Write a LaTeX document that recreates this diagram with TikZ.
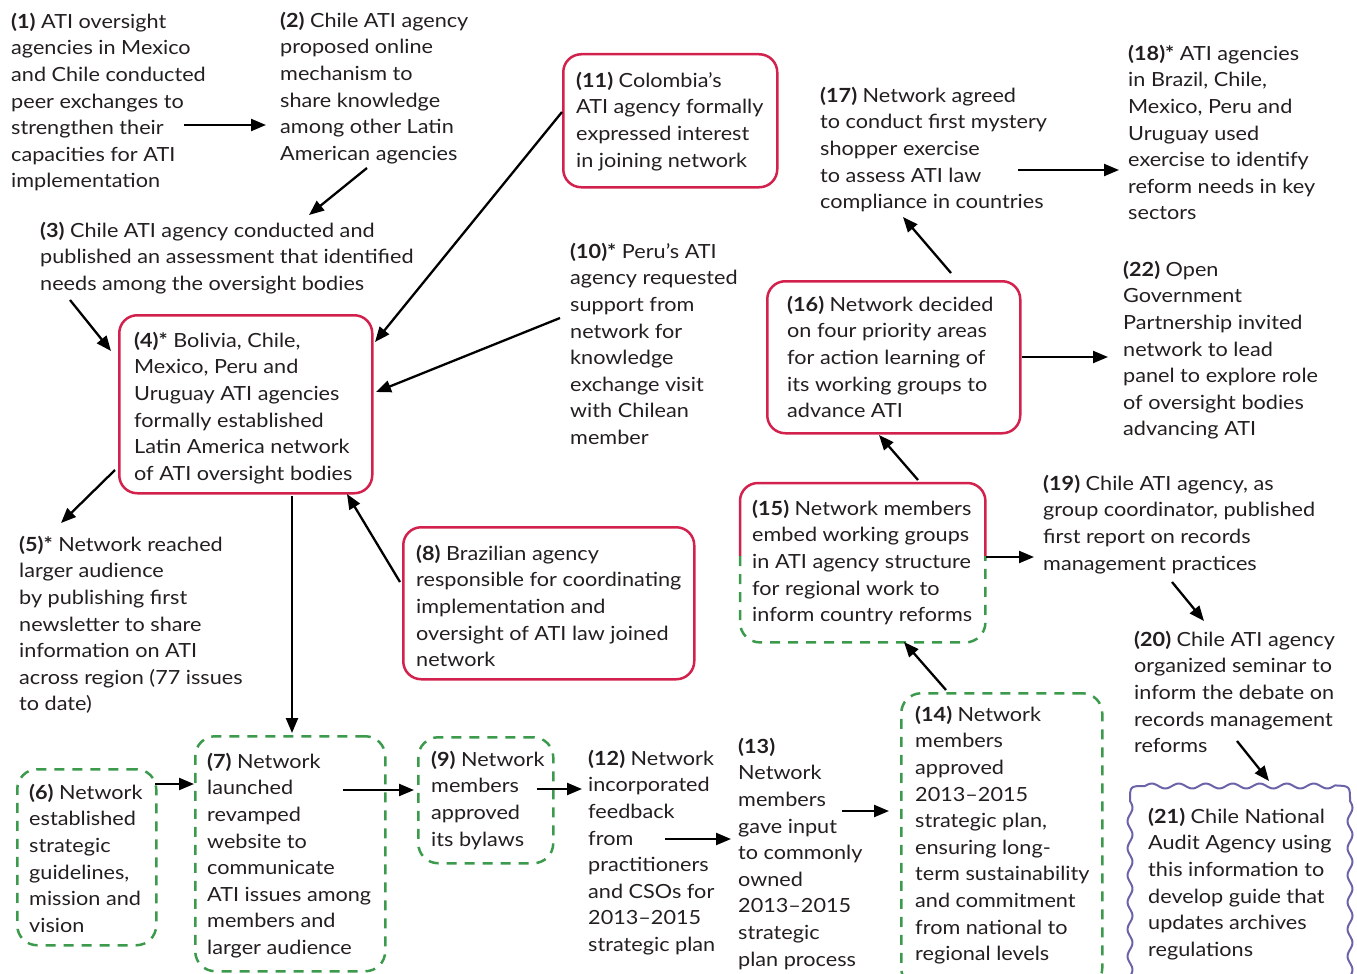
\documentclass[tikz,border=0pt]{standalone}
\usepackage{fontspec}
\setmainfont[FakeStretch=1.11]{Lato}
\usetikzlibrary{arrows.meta}
\definecolor{cred}{HTML}{D2214C}
\definecolor{cgreen}{HTML}{3C9A4C}
\definecolor{cpurple}{HTML}{6A63A8}
\definecolor{ctext}{HTML}{231F20}
\newcommand{\fs}{\rule{0pt}{16pt}}
\begin{document}
\begin{tikzpicture}[x=1pt,y=-1pt,
 txt/.style={anchor=north west,inner sep=0pt,align=left,font=\fontsize{19.5}{26.6}\selectfont,text=ctext},
 arr/.style={-{Triangle[length=15pt,width=12pt]},line width=2.3pt},
 redbox/.style={draw=cred,line width=2.5pt,rounded corners=18pt},
 greenbox/.style={draw=cgreen,line width=2.5pt,rounded corners=20pt,dash pattern=on 10pt off 8pt},
 wavybox/.style={draw=cpurple,line width=2pt,line join=round},
]
\useasboundingbox (0,0) rectangle (1357,974);

% ---------- frames ----------
\node[redbox,anchor=north west,inner sep=0pt,minimum width=253pt,minimum height=178pt] (b4) at (118,314) {};
\node[redbox,anchor=north west,inner sep=0pt,minimum width=291pt,minimum height=152pt] (b8) at (402,526) {};
\node[redbox,anchor=north west,inner sep=0pt,minimum width=214pt,minimum height=133pt] (b11) at (562,53) {};
\node[redbox,anchor=north west,inner sep=0pt,minimum width=253pt,minimum height=152pt] (b16) at (766,280) {};
\node[greenbox,anchor=north west,inner sep=0pt,minimum width=139pt,minimum height=176pt] (b6) at (16,768) {};
\node[greenbox,anchor=north west,inner sep=0pt,minimum width=190pt,minimum height=235pt] (b7) at (194,735) {};
\node[greenbox,anchor=north west,inner sep=0pt,minimum width=135pt,minimum height=126pt] (b9) at (417,736) {};
\node[greenbox,anchor=north west,inner sep=0pt,minimum width=201pt,minimum height=295pt] (b14) at (900,692) {};
\node[anchor=north west,inner sep=0pt,minimum width=245pt,minimum height=159pt] (b15) at (740,483) {};
\draw[cred,line width=2.5pt,rounded corners=18pt] (b15.west|-0,556) -- (b15.north west) -- (b15.north east) -- (b15.east|-0,556);
\draw[cgreen,line width=2.5pt,rounded corners=20pt,dash pattern=on 10pt off 8pt] (b15.west|-0,556) -- (b15.south west) -- (b15.south east) -- (b15.east|-0,556);
\node[anchor=north west,inner sep=0pt,minimum width=220pt,minimum height=210pt] (b21) at (1130,786) {};
% wavy outline of (21)
\draw[wavybox]
  plot[domain=990:801,samples=90,smooth] ({1130+2.5*sin((\x-801)*13.3333)},\x)
  .. controls (1130,786) .. (1145,786)
  -- plot[domain=1145:1335,samples=90,smooth] (\x,{786-2.5*sin((\x-1145)*13.3333)})
  .. controls (1350,786) .. (1350,801)
  -- plot[domain=801:990,samples=90,smooth] ({1350+2.5*sin((\x-801)*13.3333)},\x);

% ---------- texts ----------
\node[txt] (t1) at (11,12) {\fs\textbf{(1)} ATI oversight\\agencies in Mexico\\and Chile conducted\\peer exchanges to\\strengthen their\\capacities for ATI\\implementation};
\node[txt] (t2) at (280,11) {\fs\textbf{(2)} Chile ATI agency\\proposed online\\mechanism to\\share knowledge\\among other Latin\\American agencies};
\node[txt] (t3) at (40,221) {\fs\textbf{(3)} Chile ATI agency conducted and\\published an assessment that identified\\needs among the oversight bodies};
\node[txt] (t4) at (134,331) {\fs\textbf{(4)*} Bolivia, Chile,\\Mexico, Peru and\\Uruguay ATI agencies\\formally established\\Latin America network\\of ATI oversight bodies};
\node[txt] (t5) at (19,535) {\fs\textbf{(5)*} Network reached\\larger audience\\by publishing first\\newsletter to share\\information on ATI\\across region (77 issues\\to date)};
\node[txt] (t6) at (29,783) {\fs\textbf{(6)} Network\\established\\strategic\\guidelines,\\mission and\\vision};
\node[txt] (t7) at (207,752) {\fs\textbf{(7)} Network\\launched\\revamped\\website to\\communicate\\ATI issues among\\members and\\larger audience};
\node[txt] (t8) at (416,544) {\fs\textbf{(8)} Brazilian agency\\responsible for coordinating\\implementation and\\oversight of ATI law joined\\network};
\node[txt] (t9) at (431,750) {\fs\textbf{(9)} Network\\members\\approved\\its bylaws};
\node[txt] (t10) at (570,242) {\fs\textbf{(10)*} Peru’s ATI\\agency requested\\support from\\network for\\knowledge\\exchange visit\\with Chilean\\member};
\node[txt] (t11) at (576,71) {\fs\textbf{(11)} Colombia’s\\ATI agency formally\\expressed interest\\in joining network};
\node[txt] (t12) at (588,749) {\fs\textbf{(12)} Network\\incorporated\\feedback\\from\\practitioners\\and CSOs for\\2013–2015\\strategic plan};
\node[txt] (t13) at (738,737) {\fs\textbf{(13)}\\Network\\members\\gave input\\to commonly\\owned\\2013–2015\\strategic\\plan process};
\node[txt] (t14) at (915,705) {\fs\textbf{(14)} Network\\members\\approved\\2013–2015\\strategic plan,\\ensuring long-\\term sustainability\\and commitment\\from national to\\regional levels};
\node[txt] (t15) at (752,499) {\fs\textbf{(15)} Network members\\embed working groups\\in ATI agency structure\\for regional work to\\inform country reforms};
\node[txt] (t16) at (787,295) {\fs\textbf{(16)} Network decided\\on four priority areas\\for action learning of\\its working groups to\\advance ATI};
\node[txt] (t17) at (820,86) {\fs\textbf{(17)} Network agreed\\to conduct first mystery\\shopper exercise\\to assess ATI law\\compliance in countries};
\node[txt] (t18) at (1128,44) {\fs\textbf{(18)*} ATI agencies\\in Brazil, Chile,\\Mexico, Peru and\\Uruguay used\\exercise to identify\\reform needs in key\\sectors};
\node[txt] (t19) at (1043,474) {\fs\textbf{(19)} Chile ATI agency, as\\group coordinator, published\\first report on records\\management practices};
\node[txt] (t20) at (1134,630) {\fs\textbf{(20)} Chile ATI agency\\organized seminar to\\inform the debate on\\records management\\reforms};
\node[txt] (t21) at (1148,807) {\fs\textbf{(21)} Chile National\\Audit Agency using\\this information to\\develop guide that\\updates archives\\regulations};
\node[txt] (t22) at (1123,260) {\fs\textbf{(22)} Open\\Government\\Partnership invited\\network to lead\\panel to explore role\\of oversight bodies\\advancing ATI};

% ---------- arrow end points ----------
\coordinate (a1s) at (184,125);  \coordinate (a1e) at (266,125);
\coordinate (a2s) at (367,168);  \coordinate (a2e) at (309,215);
\coordinate (a3s) at (70,300);   \coordinate (a3e) at (111,351);
\coordinate (a11s) at (562,112); \coordinate (a11e) at (375,342);
\coordinate (a10s) at (560,318); \coordinate (a10e) at (376,392);
\coordinate (a4s) at (115,470);  \coordinate (a4e) at (61,523);
\coordinate (a47s) at (292,496); \coordinate (a47e) at (292,733);
\coordinate (a8s) at (400,582);  \coordinate (a8e) at (347,494);
\coordinate (a6s) at (155,784);  \coordinate (a6e) at (194,784);
\coordinate (a7s) at (343,790);  \coordinate (a7e) at (414,790);
\coordinate (a9s) at (537,789);  \coordinate (a9e) at (582,789);
\coordinate (a12s) at (665,839); \coordinate (a12e) at (731,839);
\coordinate (a13s) at (842,811); \coordinate (a13e) at (889,811);
\coordinate (a14s) at (946,690); \coordinate (a14e) at (904,642);
\coordinate (a15s) at (986,557); \coordinate (a15e) at (1034,557);
\coordinate (a19s) at (1172,582);\coordinate (a19e) at (1204,621);
\coordinate (a20s) at (1237,741);\coordinate (a20e) at (1269,781);
\coordinate (a15bs) at (918,480);\coordinate (a15be) at (879,435);
\coordinate (a16s) at (1022,357);\coordinate (a16e) at (1108,357);
\coordinate (a16bs) at (951,273);\coordinate (a16be) at (903,217);
\coordinate (a17s) at (1018,170);\coordinate (a17e) at (1119,170);

\draw[arr] (a1s) -- (a1e);
\draw[arr] (a2s) -- (a2e);
\draw[arr] (a3s) -- (a3e);
\draw[arr] (a11s) -- (a11e);
\draw[arr] (a10s) -- (a10e);
\draw[arr] (a4s) -- (a4e);
\draw[arr] (a47s) -- (a47e);
\draw[arr] (a8s) -- (a8e);
\draw[arr] (a6s) -- (a6e);
\draw[arr] (a7s) -- (a7e);
\draw[arr] (a9s) -- (a9e);
\draw[arr] (a12s) -- (a12e);
\draw[arr] (a13s) -- (a13e);
\draw[arr] (a14s) -- (a14e);
\draw[arr] (a15s) -- (a15e);
\draw[arr] (a19s) -- (a19e);
\draw[arr] (a20s) -- (a20e);
\draw[arr] (a15bs) -- (a15be);
\draw[arr] (a16s) -- (a16e);
\draw[arr] (a16bs) -- (a16be);
\draw[arr] (a17s) -- (a17e);
\end{tikzpicture}
\end{document}
